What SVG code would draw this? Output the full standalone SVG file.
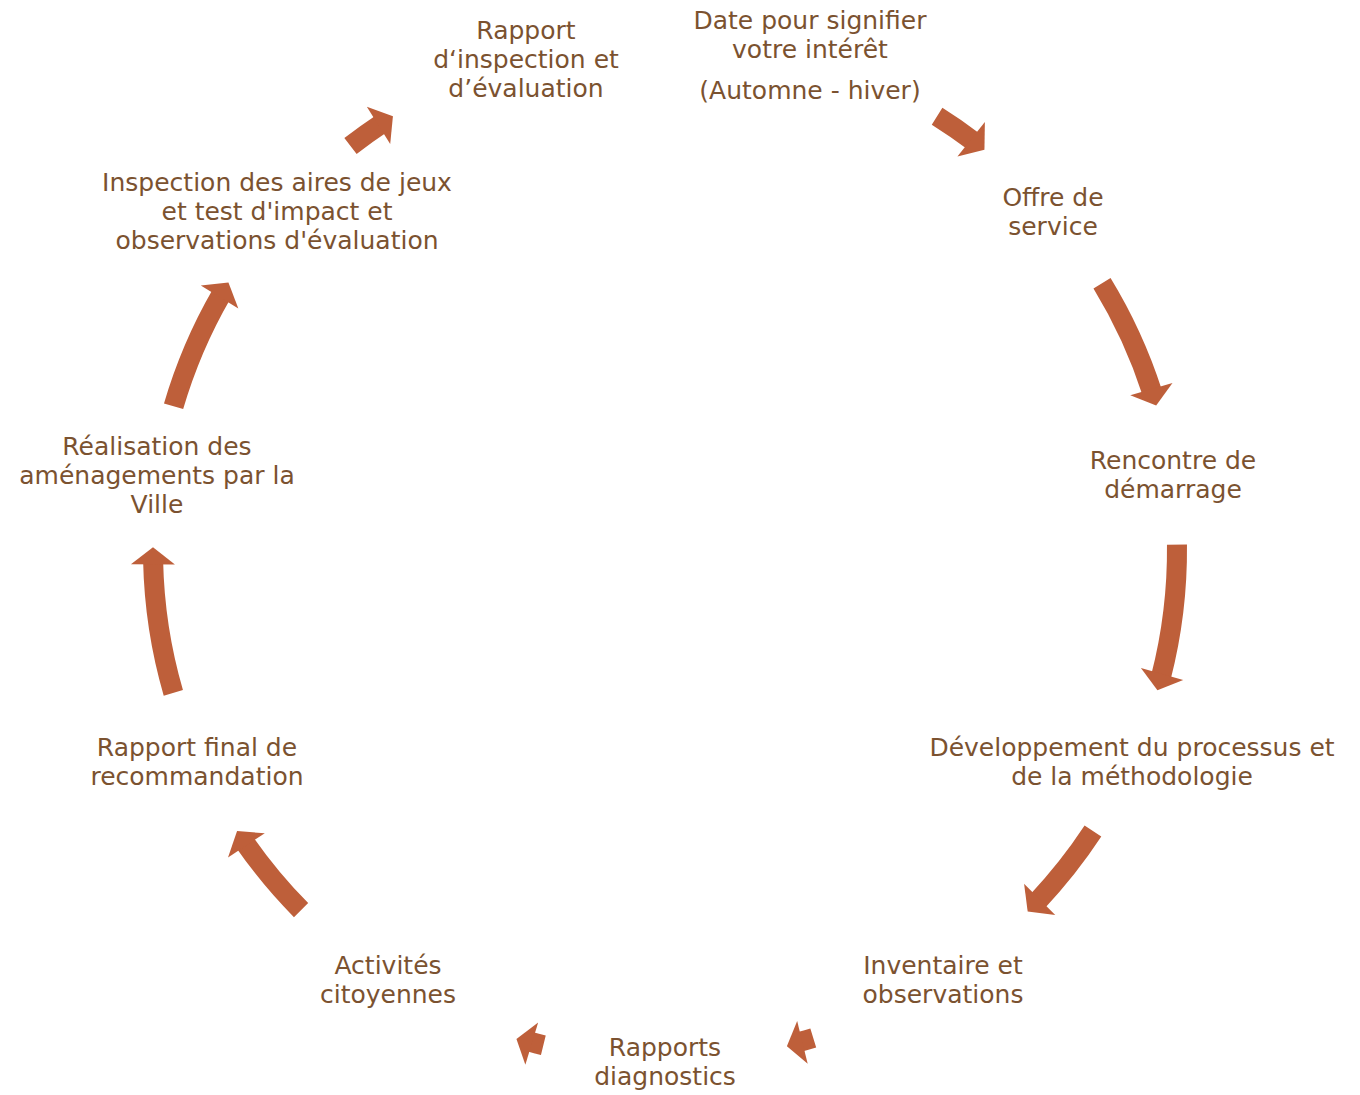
<svg xmlns="http://www.w3.org/2000/svg" width="1360" height="1095" viewBox="0 0 1360 1095">
<style>
.body{fill:none;stroke:#BE5F3A;stroke-width:20}
.head{fill:#BE5F3A}
text{font-family:"DejaVu Sans","Liberation Sans",sans-serif;font-size:25px;fill:#7B5230;text-anchor:middle}
</style>
<rect width="1360" height="1095" fill="#FFFFFF"/>
<g id="connectors">
  <g id="arrow1"><path class="body" d="M512,0 A512,512 0 0 1 510.49,39.28" transform="translate(665 550) rotate(232.1)"/><polygon class="head" points="490,-17 534,-17 512,0" transform="translate(665 550) rotate(237.9)"/></g>
  <g id="arrow2"><path class="body" d="M512,0 A512,512 0 0 1 510.05,44.62" transform="translate(665 550) rotate(302.1)"/><polygon class="head" points="490,-17 534,-17 512,0" transform="translate(665 550) rotate(308.6)"/></g>
  <g id="arrow3"><path class="body" d="M512,0 A512,512 0 0 1 497.85,119.53" transform="translate(665 550) rotate(328.6)"/><polygon class="head" points="490,-17 534,-17 512,0" transform="translate(665 550) rotate(343.6)"/></g>
  <g id="arrow4"><path class="body" d="M512,0 A512,512 0 0 1 494.55,132.52" transform="translate(665 550) rotate(359.4)"/><polygon class="head" points="490,-17 534,-17 512,0" transform="translate(665 550) rotate(375.9)"/></g>
  <g id="arrow5"><path class="body" d="M512,0 A512,512 0 0 1 504.07,89.79" transform="translate(665 550) rotate(33.3)"/><polygon class="head" points="490,-17 534,-17 512,0" transform="translate(665 550) rotate(44.9)"/></g>
  <g id="arrow6"><path class="body" d="M510,0 A510,510 0 0 1 509.80,14.24" transform="translate(665 550) rotate(73.1)"/><polygon class="head" points="489,-16 533,-16 511,0" transform="translate(665 550) rotate(76.2)"/></g>
  <g id="arrow7"><path class="body" d="M510,0 A510,510 0 0 1 509.80,14.24" transform="translate(665 550) rotate(103.8)"/><polygon class="head" points="489,-16 533,-16 511,0" transform="translate(665 550) rotate(106.9)"/></g>
  <g id="arrow8"><path class="body" d="M512,0 A512,512 0 0 1 504.38,88.03" transform="translate(665 550) rotate(135.3)"/><polygon class="head" points="490,-17 534,-17 512,0" transform="translate(665 550) rotate(146.7)"/></g>
  <g id="arrow9"><path class="body" d="M512,0 A512,512 0 0 1 494.55,132.52" transform="translate(665 550) rotate(163.8)"/><polygon class="head" points="490,-17 534,-17 512,0" transform="translate(665 550) rotate(180.3)"/></g>
  <g id="arrow10"><path class="body" d="M512,0 A512,512 0 0 1 497.43,121.26" transform="translate(665 550) rotate(196.3)"/><polygon class="head" points="490,-17 534,-17 512,0" transform="translate(665 550) rotate(211.5)"/></g>
</g>
<g id="node-rapport-inspection"><text x="526" y="39">Rapport</text><text x="526" y="68">d‘inspection et</text><text x="526" y="97">d’évaluation</text></g>
<g id="node-date"><text x="810" y="29">Date pour signifier</text><text x="810" y="58">votre intérêt</text><text x="810" y="99">(Automne - hiver)</text></g>
<g id="node-offre"><text x="1053" y="206">Offre de</text><text x="1053" y="235">service</text></g>
<g id="node-rencontre"><text x="1173" y="469">Rencontre de</text><text x="1173" y="498">démarrage</text></g>
<g id="node-developpement"><text x="1132" y="756">Développement du processus et</text><text x="1132" y="785">de la méthodologie</text></g>
<g id="node-inventaire"><text x="943" y="974">Inventaire et</text><text x="943" y="1003">observations</text></g>
<g id="node-rapports-diag"><text x="665" y="1056">Rapports</text><text x="665" y="1085">diagnostics</text></g>
<g id="node-activites"><text x="388" y="974">Activités</text><text x="388" y="1003">citoyennes</text></g>
<g id="node-rapport-final"><text x="197" y="756">Rapport final de</text><text x="197" y="785">recommandation</text></g>
<g id="node-realisation"><text x="157" y="455">Réalisation des</text><text x="157" y="484">aménagements par la</text><text x="157" y="513">Ville</text></g>
<g id="node-inspection"><text x="277" y="191">Inspection des aires de jeux</text><text x="277" y="220">et test d'impact et</text><text x="277" y="249">observations d'évaluation</text></g>
</svg>
